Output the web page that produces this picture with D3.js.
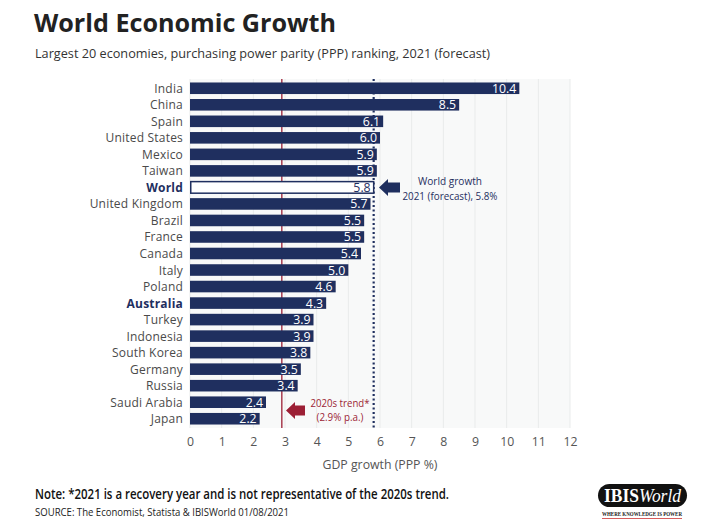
<!DOCTYPE html>
<html><head><meta charset="utf-8">
<script src="https://cdn.jsdelivr.net/npm/d3@7"></script>
<style>body{margin:0;background:#fff}svg{display:block}</style>
</head><body><svg id="c" width="720" height="527"></svg>
<script>
const categories = ["India","China","Spain","United States","Mexico","Taiwan","World","United Kingdom","Brazil","France","Canada","Italy","Poland","Australia","Turkey","Indonesia","South Korea","Germany","Russia","Saudi Arabia","Japan"];
const growth = [10.4,8.5,6.1,6.0,5.9,5.9,5.8,5.7,5.5,5.5,5.4,5.0,4.6,4.3,3.9,3.9,3.8,3.5,3.4,2.4,2.2];
const highlighted = ["World","Australia"];
const xTicks = [0,1,2,3,4,5,6,7,8,9,10,11,12];
const trendValue = 2.9;
const worldValue = 5.8;

const navy = "#1f2f5f", red = "#9c1f35", font = "'Open Sans', 'Noto Sans', sans-serif";
const svg = d3.select("#c");
const x = d3.scaleLinear().domain([0,12]).range([190,570]);
const y = d3.scaleBand().domain(categories).range([80,427]).paddingInner(0.3).paddingOuter(0.15);

// condense a text element horizontally to a target width, keeping its height
function fit(sel, w){
  sel.attr("textLength", w).attr("lengthAdjust","spacingAndGlyphs");
  return sel;
}
function txt(xp, yp, s, fs, opts={}){
  const t = svg.append("text").attr("x",xp).attr("y",yp).attr("font-family",opts.family||font)
    .attr("font-size",fs).attr("fill",opts.fill||"#333").attr("font-weight",opts.weight||400)
    .attr("text-anchor",opts.anchor||"start").text(s);
  if(opts.w) fit(t, opts.w);
  return t;
}

// title
txt(34,32,"World Economic Growth",25,{weight:700,fill:"#222",w:302});
txt(35,58,"Largest 20 economies, purchasing power parity (PPP) ranking, 2021 (forecast)",13.5,{fill:"#333",w:455});

// plot background
svg.append("rect").attr("x",x(0)).attr("y",79).attr("width",x(12)-x(0)).attr("height",349).attr("fill","#f8f9f9");
svg.selectAll(".grid").data(xTicks).enter().append("line")
  .attr("x1",d=>x(d)).attr("x2",d=>x(d)).attr("y1",79).attr("y2",428).attr("stroke","#e9ebeb").attr("stroke-width",1);

// red trend line
svg.append("line").attr("x1",x(trendValue)).attr("x2",x(trendValue)).attr("y1",79).attr("y2",428)
  .attr("stroke",red).attr("stroke-width",1.3);
// world dotted
svg.append("line").attr("x1",x(worldValue)).attr("x2",x(worldValue)).attr("y1",79).attr("y2",428)
  .attr("stroke",navy).attr("stroke-width",2.2).attr("stroke-dasharray","2,2.5");

// bars
const isHL = d=>highlighted.includes(d);
const data = categories.map((c,i)=>({c,v:growth[i]}));
svg.selectAll(".bar").data(data).enter().append("rect")
  .attr("x",d=>d.c==="World"?x(0)+0.75:x(0)).attr("y",d=>y(d.c)).attr("width",d=>x(d.v)-x(0)-(d.c==="World"?0.75:0)).attr("height",y.bandwidth())
  .attr("fill",d=>d.c==="World"?"#fff":navy).attr("stroke",d=>d.c==="World"?navy:"none").attr("stroke-width",1.5);
svg.selectAll(".val").data(data).enter().append("text")
  .attr("x",d=>x(d.v)-3).attr("y",d=>y(d.c)+y.bandwidth()/2+4.5).attr("text-anchor","end")
  .attr("font-family",font).attr("font-size",12.3).attr("fill",d=>d.c==="World"?navy:"#fff")
  .text(d=>d3.format(".1f")(d.v));
svg.selectAll(".cat").data(data).enter().append("text")
  .attr("x",183).attr("y",d=>y(d.c)+y.bandwidth()/2+4.5).attr("text-anchor","end")
  .attr("font-family",font).attr("font-size",12).attr("font-weight",d=>isHL(d.c)?700:400)
  .attr("letter-spacing","0.2")
  .attr("fill",d=>isHL(d.c)?navy:"#4a4a4a").text(d=>d.c);

// x axis
const ax = svg.append("g").attr("transform","translate(0,428)").call(d3.axisBottom(x).tickValues(xTicks).tickSize(0).tickPadding(9));
ax.select(".domain").remove();
ax.selectAll("text").attr("font-family",font).attr("font-size",12.3).attr("fill","#555");
txt(380,469,"GDP growth (PPP %)",12.3,{anchor:"middle",fill:"#555"});

// arrows
function arrow(xh, xt, cy, col){
  const p = d3.path();
  p.moveTo(xh,cy); p.lineTo(xh+9,cy-8.5); p.lineTo(xh+9,cy-5); p.lineTo(xt,cy-5);
  p.lineTo(xt,cy+5); p.lineTo(xh+9,cy+5); p.lineTo(xh+9,cy+8.5); p.closePath();
  svg.append("path").attr("d",p.toString()).attr("fill",col);
}
const wy = y("World")+y.bandwidth()/2;
arrow(379, 400, wy, navy);
txt(450,wy-2,"World growth",11.3,{anchor:"middle",fill:navy,w:64});
txt(450,wy+12.5,"2021 (forecast), 5.8%",11.3,{anchor:"middle",fill:navy,w:95});

const ty = (y("Saudi Arabia")+y("Japan")+y.bandwidth())/2;
arrow(286, 305, ty, red);
txt(340,ty-3.5,"2020s trend*",11.3,{anchor:"middle",fill:red,w:59});
txt(340,ty+11,"(2.9% p.a.)",11.3,{anchor:"middle",fill:red,w:47});

// notes
txt(35,499,"Note: *2021 is a recovery year and is not representative of the 2020s trend.",13.5,{weight:600,fill:"#111",w:414});
txt(35,516,"SOURCE: The Economist, Statista & IBISWorld 01/08/2021",11,{fill:"#222",w:254});

// logo
svg.append("rect").attr("x",598).attr("y",484).attr("width",89).attr("height",23).attr("rx",11.5).attr("fill","#111");
const lt = svg.append("text").attr("x",642.5).attr("y",501.5).attr("text-anchor","middle").attr("fill","#fff")
  .attr("font-family","'Liberation Serif', serif").attr("font-size",18).attr("textLength",77).attr("lengthAdjust","spacingAndGlyphs");
lt.append("tspan").attr("font-weight",700).text("IBIS");
lt.append("tspan").attr("font-style","italic").text("World");
fit(txt(642,516,"WHERE KNOWLEDGE IS POWER",6,{family:"'Liberation Serif', serif",weight:700,fill:"#222",anchor:"middle"}),80);
svg.append("line").attr("x1",602).attr("x2",682).attr("y1",518.5).attr("y2",518.5).attr("stroke","#c33").attr("stroke-width",0.8);
</script></body></html>
